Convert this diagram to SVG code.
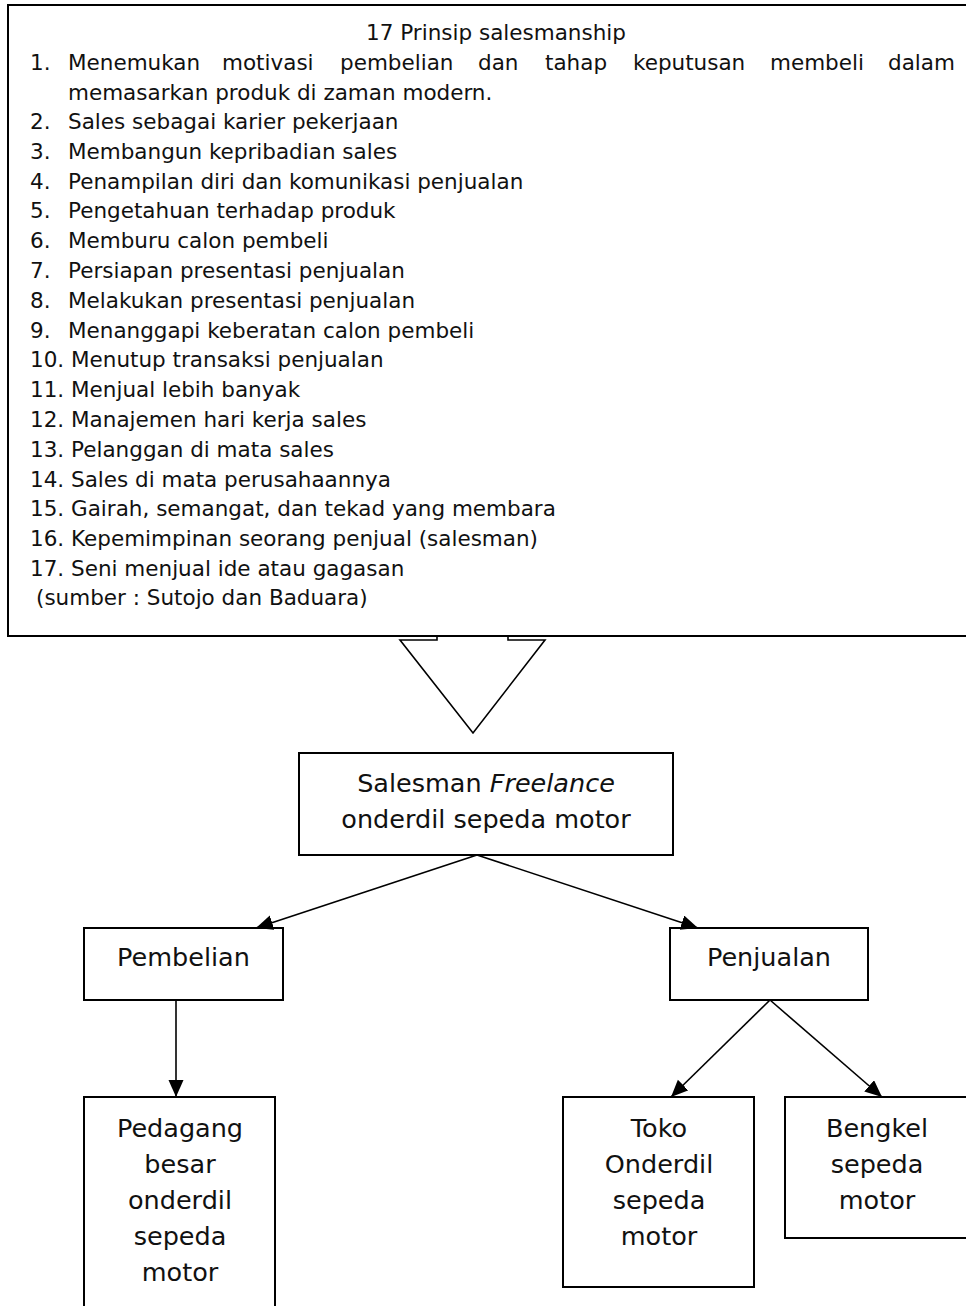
<svg xmlns="http://www.w3.org/2000/svg" width="966" height="1306" viewBox="0 0 966 1306">
  <style>
    .box { fill: #ffffff; stroke: #000000; stroke-width: 2; }
    .list { font-family: "DejaVu Sans", Verdana, sans-serif; font-size: 21.5px; fill: #111111; }
    .node { font-family: "DejaVu Sans", Verdana, sans-serif; font-size: 25.5px; fill: #111111; text-anchor: middle; }
    .link { stroke: #000000; stroke-width: 1.6; fill: none; marker-end: url(#head); }
  </style>
  <defs>
    <marker id="head" markerUnits="userSpaceOnUse" markerWidth="18" markerHeight="16" refX="17" refY="7.5" orient="auto">
      <path d="M0,0 L17,7.5 L0,15 Z" fill="#000000"/>
    </marker>
  </defs>
  <rect width="966" height="1306" fill="#ffffff"/>

  <!-- block arrow below the list (drawn first so the list frame stays on top) -->
  <g id="block-arrow">
    <path d="M437,630 L437,640 L400,640 L473,733 L545,640 L508,640 L508,630" fill="#ffffff" stroke="#000000" stroke-width="1.6" stroke-linejoin="miter"/>
  </g>

  <!-- principles list -->
  <g id="principles">
    <rect class="box" x="8" y="5" width="980" height="631"/>
    <text class="list" x="496" y="40" text-anchor="middle">17 Prinsip salesmanship</text>
    <text class="list" y="70"><tspan x="30">1.</tspan><tspan x="68">Menemukan</tspan><tspan x="222">motivasi</tspan><tspan x="340">pembelian</tspan><tspan x="478">dan</tspan><tspan x="545">tahap</tspan><tspan x="633">keputusan</tspan><tspan x="770">membeli</tspan><tspan x="888">dalam</tspan></text>
    <text class="list" x="68" y="100">memasarkan produk di zaman modern.</text>
    <text class="list" y="129"><tspan x="30">2.</tspan><tspan x="68">Sales sebagai karier pekerjaan</tspan></text>
    <text class="list" y="159"><tspan x="30">3.</tspan><tspan x="68">Membangun kepribadian sales</tspan></text>
    <text class="list" y="189"><tspan x="30">4.</tspan><tspan x="68">Penampilan diri dan komunikasi penjualan</tspan></text>
    <text class="list" y="218"><tspan x="30">5.</tspan><tspan x="68">Pengetahuan terhadap produk</tspan></text>
    <text class="list" y="248"><tspan x="30">6.</tspan><tspan x="68">Memburu calon pembeli</tspan></text>
    <text class="list" y="278"><tspan x="30">7.</tspan><tspan x="68">Persiapan presentasi penjualan</tspan></text>
    <text class="list" y="308"><tspan x="30">8.</tspan><tspan x="68">Melakukan presentasi penjualan</tspan></text>
    <text class="list" y="338"><tspan x="30">9.</tspan><tspan x="68">Menanggapi keberatan calon pembeli</tspan></text>
    <text class="list" x="30" y="367">10. Menutup transaksi penjualan</text>
    <text class="list" x="30" y="397">11. Menjual lebih banyak</text>
    <text class="list" x="30" y="427">12. Manajemen hari kerja sales</text>
    <text class="list" x="30" y="457">13. Pelanggan di mata sales</text>
    <text class="list" x="30" y="487">14. Sales di mata perusahaannya</text>
    <text class="list" x="30" y="516">15. Gairah, semangat, dan tekad yang membara</text>
    <text class="list" x="30" y="546">16. Kepemimpinan seorang penjual (salesman)</text>
    <text class="list" x="30" y="576">17. Seni menjual ide atau gagasan</text>
    <text class="list" x="36" y="605">(sumber : Sutojo dan Baduara)</text>
  </g>

  <g id="salesman">
    <rect class="box" x="299" y="753" width="374" height="102"/>
    <text class="node" x="486" y="792">Salesman <tspan font-style="italic">Freelance</tspan></text>
    <text class="node" x="486" y="828">onderdil sepeda motor</text>
  </g>

  <g id="pembelian">
    <rect class="box" x="84" y="928" width="199" height="72"/>
    <text class="node" x="183.5" y="966">Pembelian</text>
  </g>

  <g id="penjualan">
    <rect class="box" x="670" y="928" width="198" height="72"/>
    <text class="node" x="769" y="966">Penjualan</text>
  </g>

  <g id="pedagang">
    <rect class="box" x="84" y="1097" width="191" height="220"/>
    <text class="node" x="180" y="1137">Pedagang</text>
    <text class="node" x="180" y="1173">besar</text>
    <text class="node" x="180" y="1209">onderdil</text>
    <text class="node" x="180" y="1245">sepeda</text>
    <text class="node" x="180" y="1281">motor</text>
  </g>

  <g id="toko">
    <rect class="box" x="563" y="1097" width="191" height="190"/>
    <text class="node" x="659" y="1137">Toko</text>
    <text class="node" x="659" y="1173">Onderdil</text>
    <text class="node" x="659" y="1209">sepeda</text>
    <text class="node" x="659" y="1245">motor</text>
  </g>

  <g id="bengkel">
    <rect class="box" x="785" y="1097" width="200" height="141"/>
    <text class="node" x="877" y="1137">Bengkel</text>
    <text class="node" x="877" y="1173">sepeda</text>
    <text class="node" x="877" y="1209">motor</text>
  </g>

  <g id="connectors">
    <line class="link" x1="477" y1="855" x2="256" y2="928"/>
    <line class="link" x1="477" y1="855" x2="698" y2="928"/>
    <line class="link" x1="176" y1="1000" x2="176" y2="1097"/>
    <line class="link" x1="770" y1="1000" x2="671" y2="1097"/>
    <line class="link" x1="770" y1="1000" x2="882" y2="1097"/>
  </g>
</svg>
